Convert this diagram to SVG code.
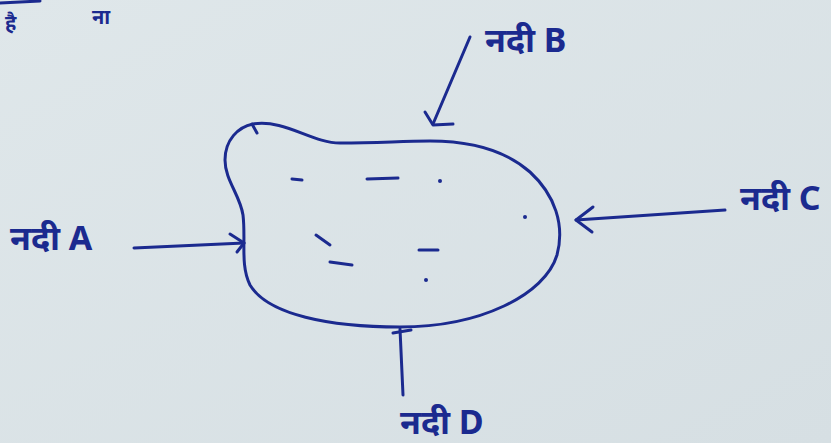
<svg xmlns="http://www.w3.org/2000/svg" width="831" height="443" viewBox="0 0 831 443">
<defs>
<style>
.ink{fill:none;stroke:#1b2a8f;stroke-width:3;stroke-linecap:round;stroke-linejoin:round}
.lbl{font-family:"Noto Sans","Liberation Sans",sans-serif;font-size:34px;fill:#1b2a8f;font-weight:bold}
.frag{font-family:"Noto Sans","Liberation Sans",sans-serif;font-size:20px;fill:#1b2a8f;font-weight:bold}
</style>
<linearGradient id="bg" x1="0" y1="0" x2="1" y2="1">
<stop offset="0" stop-color="#dfe7ea"/>
<stop offset="1" stop-color="#d6dfe3"/>
</linearGradient>
</defs>
<rect width="831" height="443" fill="url(#bg)"/>
<g id="fragments">
<path class="ink" d="M0,3 L40,1"/>
<text class="frag" x="5" y="30">है</text>
<text class="frag" x="92" y="24">ना</text>
</g>
<g id="lake">
<path class="ink" d="M253,124 C285,119 312,143 340,143 C380,143 400,141 430,141 C470,141 505,150 530,172 C555,195 565,225 557,255 C545,295 480,327 400,327 C330,327 268,315 250,285 C240,265 246,240 243,215 C240,195 225,180 225,160 C225,140 238,127 253,124 Z"/>
<path class="ink" d="M252,124 L257,133"/>
<g id="marks">
<path class="ink" d="M292,179 L302,180"/>
<path class="ink" d="M367,179 L398,178"/>
<circle cx="440" cy="181" r="2" fill="#1b2a8f"/>
<circle cx="525" cy="217" r="2" fill="#1b2a8f"/>
<path class="ink" d="M316,235 L330,245"/>
<path class="ink" d="M330,262 L352,265"/>
<path class="ink" d="M419,250 L438,250"/>
<circle cx="426" cy="280" r="2" fill="#1b2a8f"/>
</g>
</g>
<g id="connectors">
<path class="ink" d="M134,248 L244,243"/>
<path class="ink" d="M230,234 L244,243 L237,252"/>
<path class="ink" d="M470,37 L433,124"/>
<path class="ink" d="M425,112 L433,125 L453,124"/>
<path class="ink" d="M725,210 L576,220"/>
<path class="ink" d="M593,207 L576,220 L592,232"/>
<path class="ink" d="M403,395 L400,329"/>
<path class="ink" d="M393,333 L411,330"/>
</g>
<g id="nodeA"><text class="lbl" x="10" y="250">नदी A</text></g>
<g id="nodeB"><text class="lbl" x="485" y="52">नदी B</text></g>
<g id="nodeC"><text class="lbl" x="740" y="210">नदी C</text></g>
<g id="nodeD"><text class="lbl" x="400" y="434">नदी D</text></g>
</svg>
